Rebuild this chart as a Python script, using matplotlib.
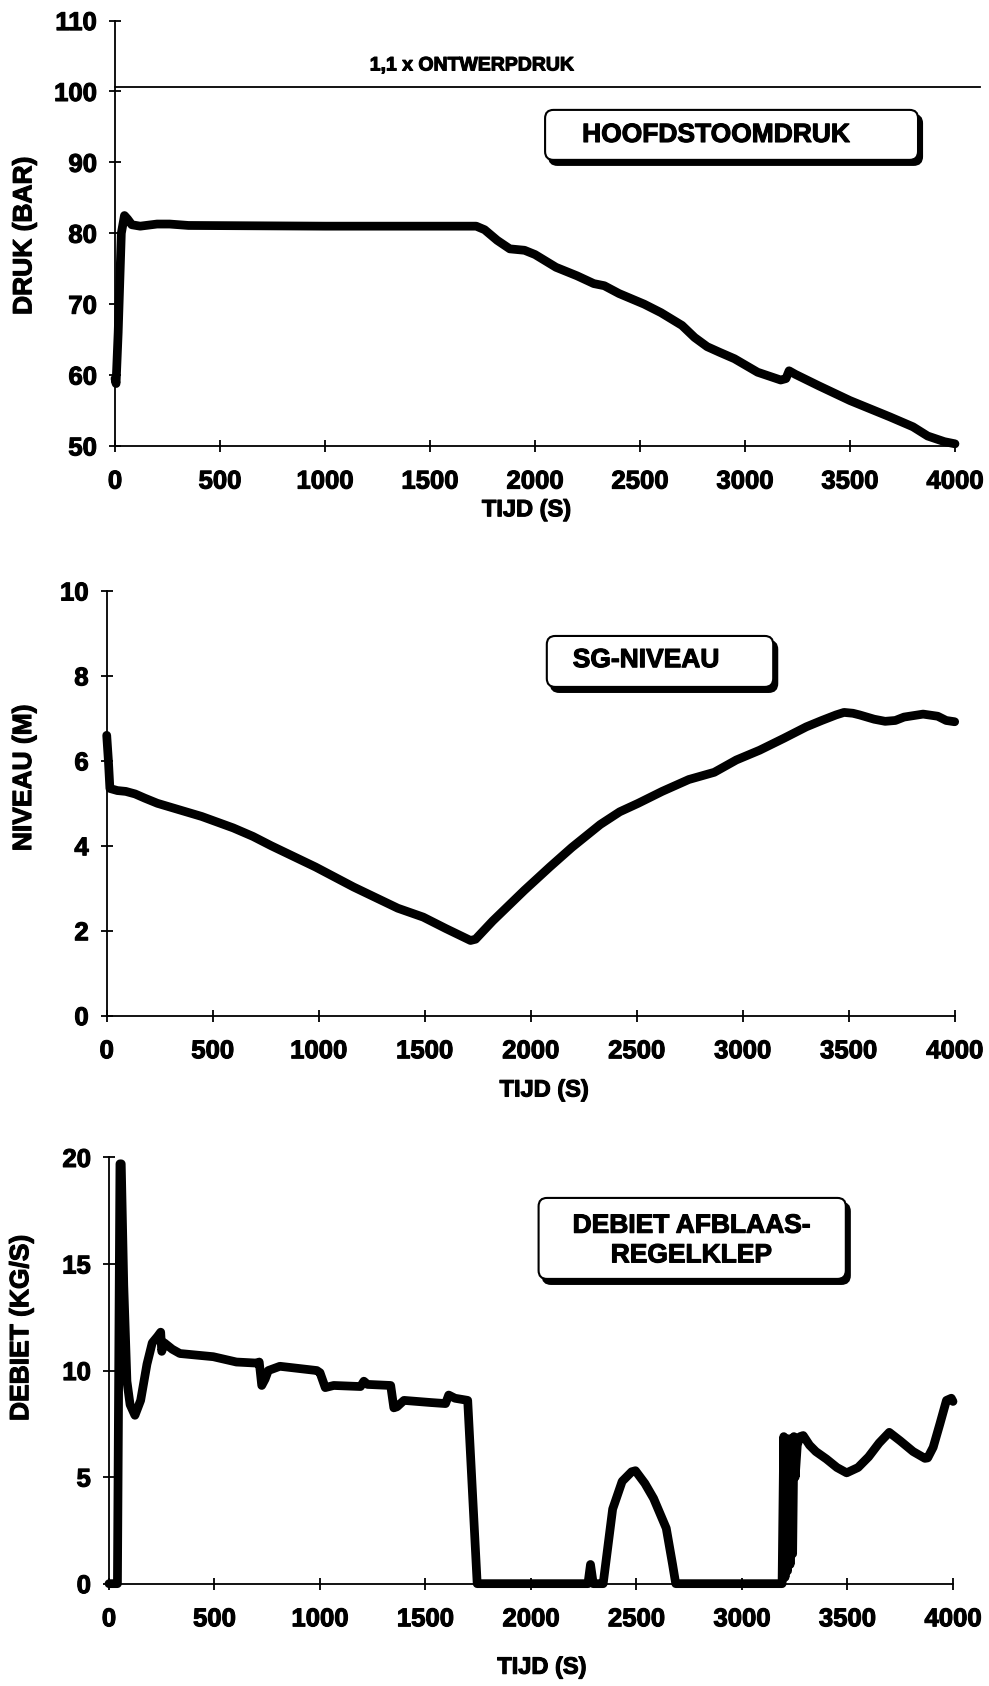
import numpy as np
import matplotlib.pyplot as plt
import matplotlib.patheffects as pe
from matplotlib.patches import FancyBboxPatch

plt.rcParams['font.family'] = ['Liberation Sans', 'DejaVu Sans']
plt.rcParams['font.weight'] = 'bold'

# time axis ticks (s)
t_ticks = [0, 500, 1000, 1500, 2000, 2500, 3000, 3500, 4000]

# main steam pressure (bar)
press_t = [0, 5, 15, 30, 45, 60, 80, 120, 200, 260, 350, 1000, 1720, 1760, 1820,
           1880, 1950, 2000, 2100, 2200, 2280, 2330, 2400, 2520, 2600, 2700, 2760,
           2820, 2880, 2950, 3060, 3170, 3195, 3210, 3240, 3350, 3500, 3690, 3800,
           3870, 3950, 4000]
press_v = [59.5, 58.8, 66, 80, 82.5, 82, 81.2, 81.0, 81.3, 81.3, 81.1, 81.0, 81.0,
           80.5, 79.0, 77.8, 77.6, 77.0, 75.2, 74.0, 72.9, 72.6, 71.5, 70.0, 68.8,
           67.0, 65.3, 64.0, 63.2, 62.3, 60.4, 59.3, 59.5, 60.6, 60.1, 58.5, 56.4,
           54.1, 52.7, 51.4, 50.6, 50.3]
press_limit = 100.6

# steam generator level (m)
lvl_t = [0, 8, 15, 50, 90, 134, 180, 239, 340, 448, 597, 690, 776, 985, 1164, 1373,
         1493, 1600, 1716, 1740, 1821, 1970, 2090, 2194, 2328, 2420, 2507, 2620,
         2746, 2866, 2970, 3080, 3194, 3300, 3373, 3440, 3478, 3520, 3552, 3620,
         3672, 3720, 3761, 3851, 3920, 3960, 4000]
lvl_v = [6.6, 6.0, 5.35, 5.3, 5.28, 5.22, 5.12, 5.0, 4.85, 4.69, 4.42, 4.22, 4.0, 3.5,
         3.03, 2.53, 2.32, 2.05, 1.77, 1.8, 2.23, 2.95, 3.5, 3.96, 4.5, 4.8, 5.0, 5.28,
         5.56, 5.73, 6.02, 6.25, 6.53, 6.8, 6.95, 7.08, 7.14, 7.12, 7.08, 6.98, 6.93,
         6.95, 7.03, 7.1, 7.05, 6.95, 6.92]

# relief control valve flow (kg/s)
flow_t = [0, 40, 52, 58, 70, 85, 100, 123, 150, 180, 205, 230, 245, 250, 262, 300,
          336, 494, 604, 700, 712, 724, 740, 755, 810, 985, 1000, 1025, 1065, 1192,
          1208, 1225, 1335, 1350, 1365, 1398, 1524, 1595, 1610, 1640, 1700, 1745,
          2270, 2282, 2295, 2327, 2342, 2387, 2432, 2477, 2495, 2540, 2581, 2641,
          2671, 2686, 3190, 3198, 3204, 3210, 3216, 3222, 3228, 3234, 3240, 3246,
          3252, 3262, 3275, 3290, 3320, 3350, 3400, 3450, 3496, 3550, 3600, 3650,
          3698, 3750, 3811, 3867, 3880, 3906, 3938, 3969, 3992, 4000]
flow_v = [0, 0, 19.7, 19.7, 14, 9.5, 8.4, 7.9, 8.6, 10.3, 11.3, 11.6, 11.8, 10.9,
          11.3, 11.0, 10.8, 10.65, 10.4, 10.35, 10.4, 9.3, 9.6, 10.0, 10.2, 10.0, 9.9,
          9.2, 9.3, 9.25, 9.5, 9.35, 9.3, 8.25, 8.3, 8.6, 8.5, 8.45, 8.85, 8.7, 8.6, 0,
          0, 0.9, 0, 0, 0, 3.5, 4.8, 5.25, 5.3, 4.7, 4.0, 2.6, 0.9, 0, 0, 6.9, 0.3,
          6.7, 0.6, 6.8, 0.9, 6.6, 1.4, 6.9, 5.0, 6.5, 6.9, 6.95, 6.5, 6.2, 5.85, 5.45,
          5.2, 5.45, 5.95, 6.6, 7.1, 6.7, 6.2, 5.88, 5.9, 6.4, 7.5, 8.6, 8.7, 8.55]

# scanned print looks heavier than plain bold
heavy = [pe.withStroke(linewidth=0.8, foreground='black')]


def style_axes(ax, ylim, yticks, xlabel_y, xlabel_x, ylabel, ylabel_x, ylabel_y):
    ax.set_xlim(0, 4000)
    ax.set_ylim(*ylim)
    ax.set_xticks(t_ticks)
    ax.set_yticks(yticks)
    for s in ['top', 'right']:
        ax.spines[s].set_visible(False)
    for s in ['left', 'bottom']:
        ax.spines[s].set_linewidth(1.3)
    ax.tick_params(direction='inout', length=8, width=1.3, labelsize=18.5)
    ax.tick_params(axis='x', pad=13)
    ax.tick_params(axis='y', pad=9)
    for lab in ax.get_xticklabels() + ax.get_yticklabels():
        lab.set_path_effects(heavy)
    ax.set_xlabel('TIJD (S)', fontsize=17, fontweight='bold', va='center')
    ax.xaxis.set_label_coords(xlabel_x, xlabel_y)
    ax.set_ylabel(ylabel, fontsize=19, fontweight='bold', va='center')
    ax.yaxis.set_label_coords(ylabel_x, ylabel_y)
    ax.xaxis.label.set_path_effects(heavy)
    ax.yaxis.label.set_path_effects(heavy)


def label_box(ax, x0, y0, x1, y1, text, tx, ty):
    bb = ax.get_window_extent()
    aspect = bb.width / bb.height
    dx, dy = 4 / bb.width, 5 / bb.height
    style = 'round,pad=0,rounding_size=0.01'
    shadow = FancyBboxPatch((x0 + dx, y0 - dy), x1 - x0, y1 - y0, boxstyle=style,
                            mutation_aspect=aspect, transform=ax.transAxes,
                            fc='black', ec='black', lw=1.5, zorder=5)
    box = FancyBboxPatch((x0, y0), x1 - x0, y1 - y0, boxstyle=style,
                         mutation_aspect=aspect, transform=ax.transAxes,
                         fc='white', ec='black', lw=1.5, zorder=6)
    ax.add_patch(shadow)
    ax.add_patch(box)
    ax.text(tx, ty, text, transform=ax.transAxes, ha='center', va='center',
            fontsize=19, fontweight='bold', linespacing=1.3, zorder=7,
            path_effects=heavy)


fig = plt.figure(figsize=(9.89, 16.86), dpi=100)
ax1 = fig.add_axes([0.1163, 0.7355, 0.8493, 0.2523])
ax2 = fig.add_axes([0.1079, 0.3976, 0.8574, 0.2519])
ax3 = fig.add_axes([0.1102, 0.0607, 0.8534, 0.2528])

lw = 6.3

# pressure
ax1.plot(press_t, press_v, color='black', lw=lw, solid_capstyle='round',
         solid_joinstyle='round', clip_on=False, zorder=4)
ax1.axhline(press_limit, xmin=0, xmax=1.03, color='black', lw=1.3, clip_on=False)
ax1.text(1700, 103.6, '1,1 x ONTWERPDRUK', ha='center', va='center',
         fontsize=14, fontweight='bold', path_effects=heavy)
style_axes(ax1, (50, 110), range(50, 111, 10), -0.150, 0.49,
           'DRUK (BAR)', -0.108, 0.494)
label_box(ax1, 0.512, 0.6725, 0.956, 0.790, 'HOOFDSTOOMDRUK', 0.7155, 0.731)

# level
ax2.plot(lvl_t, lvl_v, color='black', lw=lw, solid_capstyle='round',
         solid_joinstyle='round', clip_on=False, zorder=4)
style_axes(ax2, (0, 10), range(0, 11, 2), -0.175, 0.516,
           'NIVEAU (M)', -0.0975, 0.56)
label_box(ax2, 0.519, 0.774, 0.786, 0.894, 'SG-NIVEAU', 0.636, 0.837)

# flow
ax3.plot(flow_t, flow_v, color='black', lw=lw, solid_capstyle='round',
         solid_joinstyle='round', clip_on=False, zorder=4)
style_axes(ax3, (0, 20), range(0, 21, 5), -0.196, 0.513,
           'DEBIET (KG/S)', -0.104, 0.6)
label_box(ax3, 0.509, 0.715, 0.873, 0.905, 'DEBIET AFBLAAS-\nREGELKLEP', 0.69, 0.805)

fig.savefig('out.png', dpi=100)
